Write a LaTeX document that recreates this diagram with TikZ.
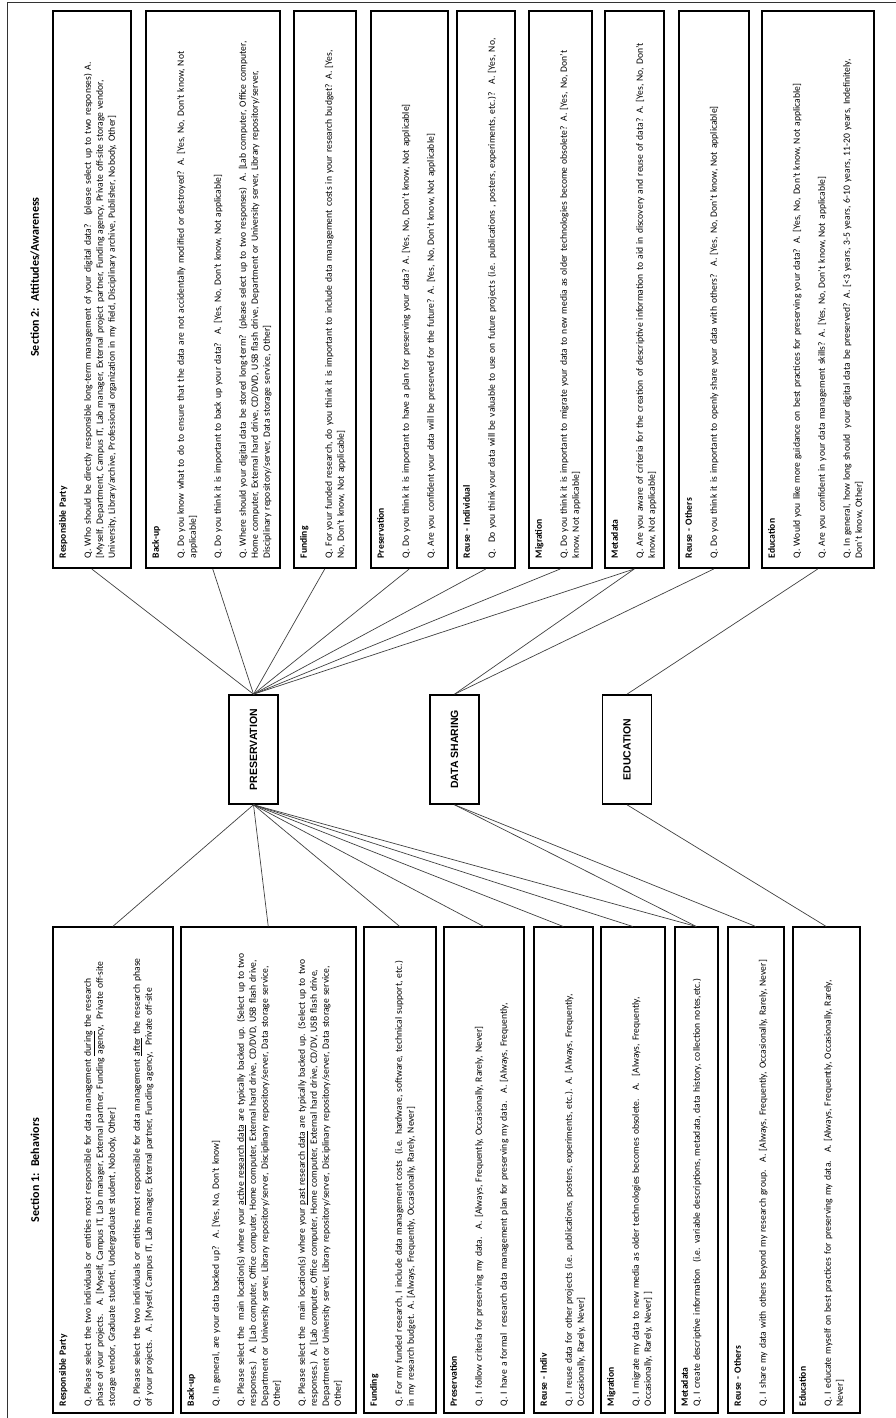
\documentclass[tikz,border=0pt]{standalone}
\usepackage{fontspec}
\setmainfont{Carlito}
\newfontfamily\capfont{Liberation Sans}
\usetikzlibrary{positioning}
\newcommand{\qsize}{\fontsize{9.6}{12}\selectfont}
\tikzset{
    sectitle/.style={font=\bfseries\fontsize{12}{14}\selectfont},
    attbox/.style={draw, line width=1.5pt, anchor=north west, inner xsep=10pt, inner ysep=4pt, text width=537pt, text height=9pt, align=left, font=\qsize},
    behbox/.style={draw, line width=1.5pt, anchor=north west, inner xsep=7pt, inner ysep=4pt, text width=472pt, text height=9pt, align=left, font=\qsize},
    theme/.style={draw, line width=1.6pt, minimum width=109pt, minimum height=49pt, inner sep=0pt, font=\capfont\bfseries\fontsize{10.5}{12}\selectfont},
    conn/.style={-, line width=0.7pt, black!75},
}

\begin{document}
\begin{tikzpicture}[x=1pt, y=1pt, rotate=90, transform shape]
    \useasboundingbox (0,0) rectangle (1418,-896);
    \draw[line width=1pt, black!80] (0,-7) -- (1415,-7) -- (1415,-896);

    % section titles
    \node[sectitle] (sec2) at (1141,-35) {Section 2:~ Attitudes/Awareness};
    \node[sectitle] (sec1) at (248,-35) {Section 1:~ Behaviors};

    % themes
    \node[theme] (pres) at (668.5,-253.5) {PRESERVATION};
    \node[theme] (share) at (668.5,-454.5) {DATA SHARING};
    \node[theme] (edu) at (668.5,-627) {EDUCATION};

    % section 2
    \node[attbox, text depth=61pt] (att1) at (849,-52) {\textbf{Responsible Party}\\[13pt]
        Q. Who should be directly responsible long-term management of your digital data?~ (please select up to two responses) A.\\\relax
        [Myself, Department, Campus IT, Lab manager, External project partner, Funding agency, Private off-site storage vendor,\\
        University, Library/archive, Professional organization in my field, Disciplinary archive, Publisher, Nobody, Other]};
    \node[attbox, text depth=117pt] (att2) at (849,-145) {\textbf{Back-up}\\[13pt]
        Q. Do you know what to do to ensure that the data are not accidentally modified or destroyed? A. [Yes, No, Don't know, Not\\
        applicable]\\[13pt]
        Q. Do you think it is important to back up your data?~ A. [Yes, No, Don't know, Not applicable]\\[13pt]
        Q. Where should your digital data be stored long-term? (please select up to two responses)~ A. [Lab computer, Office computer,\\
        Home computer, External hard drive, CD/DVD, USB flash drive, Department or University server, Library repository/server,\\
        Disciplinary repository/server, Data storage service, Other]};
    \node[attbox, text depth=45pt] (att3) at (849,-293) {\textbf{Funding}\\[13pt]
        Q. For your funded research, do you think it is important to include data management costs in your research budget? A. [Yes,\\
        No, Don't know, Not applicable]};
    \node[attbox, text depth=60pt] (att4) at (849,-370) {\textbf{Preservation}\\[13pt]
        Q. Do you think it is important to have a plan for preserving your data? A. [Yes, No, Don't know, Not applicable]\\[13pt]
        Q. Are you confident your data will be preserved for the future? A. [Yes, No, Don't know, Not applicable]};
    \node[attbox, text depth=41pt] (att5) at (849,-456) {\textbf{Reuse - Individual}\\[13pt]
        Q.~ Do you think your data will be valuable to use on future projects (i.e. publications , posters, experiments, etc.)?~ A. [Yes, No,};
    \node[attbox, text depth=46pt] (att6) at (849,-528) {\textbf{Migration}\\[13pt]
        Q. Do you think it is important to migrate your data to new media as older technologies become obsolete? A. [Yes, No, Don't\\
        know, Not applicable]};
    \node[attbox, text depth=42pt] (att7) at (849,-604) {\textbf{Metadata}\\[13pt]
        Q. Are you aware of criteria for the creation of descriptive information to aid in discovery and reuse of data? A. [Yes, No, Don't\\
        know, Not applicable]};
    \node[attbox, text depth=53pt] (att8) at (849,-678) {\textbf{Reuse - Others}\\[13pt]
        Q. Do you think it is important to openly share your data with others?~ A. [Yes, No, Don't know, Not applicable]};
    \node[attbox, text depth=95pt] (att9) at (849,-761) {\textbf{Education}\\[13pt]
        Q. Would you like more guidance on best practices for preserving your data? A. [Yes, No, Don't know, Not applicable]\\[13pt]
        Q. Are you confident in your data management skills? A. [Yes, No, Don't know, Not applicable]\\[13pt]
        Q. In general, how long should~ your digital data be preserved? A. [<3 years, 3-5 years, 6-10 years, 11-20 years, Indefinitely,\\
        Don't know, Other]};

    % section 1
    \node[behbox, text depth=103pt] (beh1) at (4,-52) {\textbf{Responsible Party}\\[13pt]
        Q. Please select the two individuals or entities most responsible for data management \underline{during} the research\\
        phase of your projects.~ A. [Myself, Campus IT, Lab manager, External partner, Funding agency,~ Private off-site\\
        storage vendor, Graduate student, Undergraduate student, Nobody, Other]\\[13pt]
        Q. Please select the two individuals or entities most responsible for data management \underline{after} the research phase\\
        of your projects.~ A. [Myself, Campus IT, Lab manager, External partner, Funding agency,~ Private off-site};
    \node[behbox, text depth=158pt] (beh2) at (4,-180) {\textbf{Back-up}\\[13pt]
        Q. In general, are your data backed up?~ A. [Yes, No, Don't know]\\[13pt]
        Q. Please select the~ main location(s) where your \underline{active research data} are typically backed up. (Select up to two\\
        responses.)~ A. [Lab computer, Office computer, Home computer, External hard drive, CD/DVD, USB flash drive,\\
        Department or University server, Library repository/server, Disciplinary repository/server, Data storage service,\\
        Other]\\[13pt]
        Q. Please select the~ main location(s) where your \underline{past research data} are typically backed up. (Select up to two\\
        responses.) A. [Lab computer, Office computer, Home computer, External hard drive, CD/DV, USB flash drive,\\
        Department or University server, Library repository/server, Disciplinary repository/server, Data storage service,\\
        Other]};
    \node[behbox, text depth=55pt] (beh3) at (4,-363) {\textbf{Funding}\\[13pt]
        Q. For my funded research, I include data management costs~ (i.e. hardware, software, technical support, etc.)\\
        in my research budget. A. [Always, Frequently, Occasionally, Rarely, Never]};
    \node[behbox, text depth=63pt] (beh4) at (4,-443) {\textbf{Preservation}\\[13pt]
        Q. I follow criteria for preserving my data.~ A. [Always, Frequently, Occasionally, Rarely, Never]\\[13pt]
        Q. I have a formal~ research data management plan for preserving my data.~ A. [Always, Frequently,};
    \node[behbox, text depth=42pt] (beh5) at (4,-533) {\textbf{Reuse - Indiv}\\[13pt]
        Q. I reuse data for other projects (i.e. publications, posters, experiments, etc.). A. [Always, Frequently,\\
        Occasionally, Rarely, Never]};
    \node[behbox, text depth=47pt] (beh6) at (4,-600) {\textbf{Migration}\\[13pt]
        Q. I migrate my data to new media as older technologies becomes obsolete.~ A.~ [Always, Frequently,\\
        Occasionally, Rarely, Never] ]};
    \node[behbox, text depth=26pt] (beh7) at (4,-674) {\textbf{Metadata}\\
        Q. I create descriptive information~ (i.e. variable descriptions, metadata, data history, collection notes,etc.)};
    \node[behbox, text depth=39pt] (beh8) at (4,-727) {\textbf{Reuse - Others}\\[13pt]
        Q. I share my data with others beyond my research group.~ A. [Always, Frequently, Occasionally, Rarely, Never]};
    \node[behbox, text depth=50pt] (beh9) at (4,-792) {\textbf{Education}\\[13pt]
        Q. I educate myself on best practices for preserving my data.~ A. [Always, Frequently, Occasionally, Rarely,\\
        Never]};

    % links to section 2
    \draw[conn] (pres.east) -- (att1.west);
    \draw[conn] (pres.east) -- (att2.west);
    \draw[conn] (pres.east) -- (att3.west);
    \draw[conn] (pres.east) -- (att4.west);
    \draw[conn] (pres.east) -- (att5.west);
    \draw[conn] (pres.east) -- (att6.west);
    \draw[conn] (pres.east) -- (att7.west);
    \draw[conn] (share.east) -- (att7.west);
    \draw[conn] (share.east) -- (att8.west);
    \draw[conn] (edu.east) -- (att9.west);

    % links to section 1
    \draw[conn] (beh1.east) -- (pres.west);
    \draw[conn] (beh2.east) -- (pres.west);
    \draw[conn] (beh3.east) -- (pres.west);
    \draw[conn] (beh4.east) -- (pres.west);
    \draw[conn] (beh5.east) -- (pres.west);
    \draw[conn] (beh6.east) -- (pres.west);
    \draw[conn] (beh7.east) -- (pres.west);
    \draw[conn] (beh7.east) -- (share.west);
    \draw[conn] (beh8.east) -- (share.west);
    \draw[conn] (beh9.east) -- (edu.west);
\end{tikzpicture}
\end{document}
